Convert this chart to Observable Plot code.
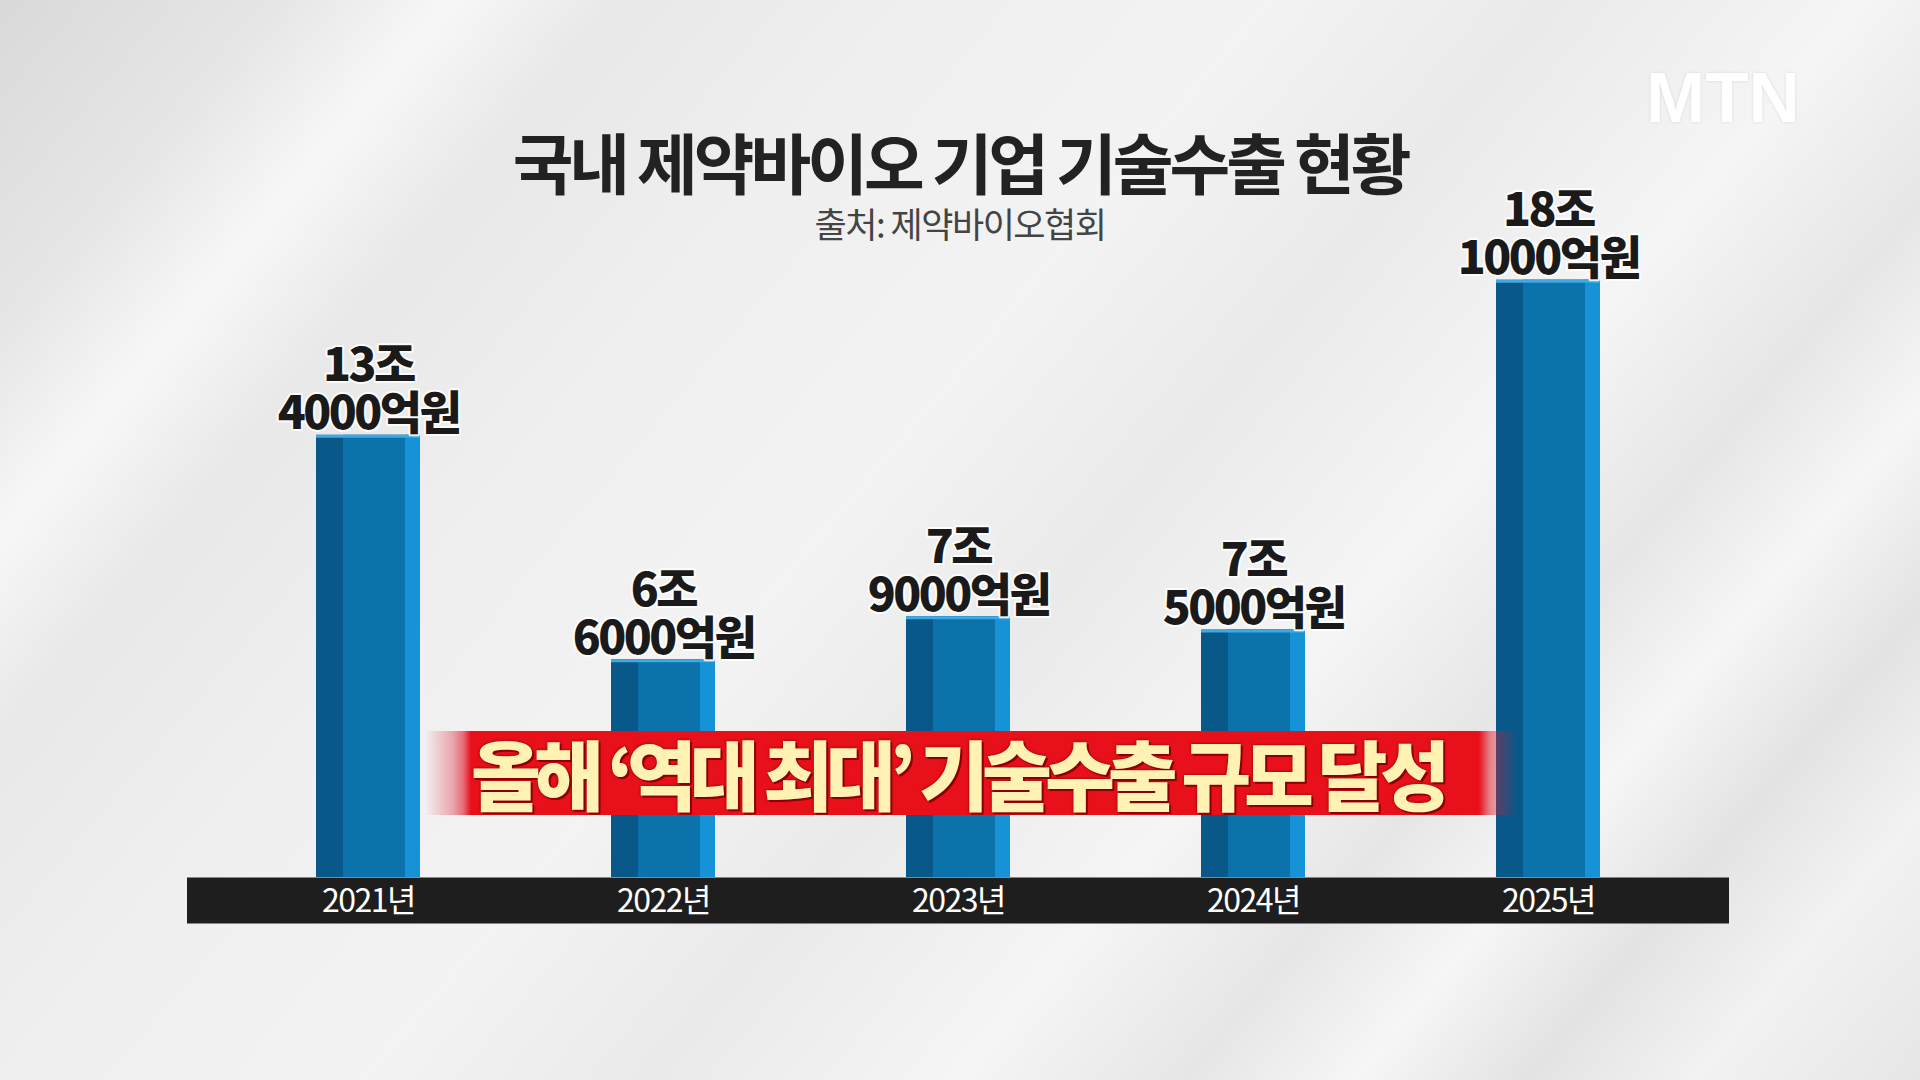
<!DOCTYPE html>
<html><head><meta charset="utf-8">
<script src="https://cdn.jsdelivr.net/npm/d3@7"></script>
<script src="https://cdn.jsdelivr.net/npm/@observablehq/plot@0.6"></script>
<style>
html,body{margin:0;padding:0;width:1920px;height:1080px;overflow:hidden;}
#wrap{position:relative;width:1920px;height:1080px;
 background:linear-gradient(130deg,#d9d9d9 0%,#e6e6e6 10%,#f7f7f7 16%,#e8e8e8 22%,#efefef 32%,#f3f3f3 45%,#eaeaea 55%,#f5f5f5 66%,#e6e6e6 74%,#f6f6f6 80%,#e3e3e3 86%,#f2f2f2 92%,#e6e6e6 100%);
 font-family:"Noto Sans CJK KR","Noto Sans",sans-serif;}
#chart{position:absolute;left:0;top:0;}
.title{position:absolute;left:0;width:1920px;text-align:center;line-height:1;}
#t1{top:127px;font-size:66px;font-weight:700;color:#222;letter-spacing:-4px;}
#t2{top:205px;font-size:35px;font-weight:400;color:#444;letter-spacing:-1.5px;}
#logo{position:absolute;left:1646px;top:62px;font-family:"Liberation Sans",Arial,sans-serif;font-weight:700;font-size:71px;line-height:1;color:#fff;letter-spacing:0px;text-shadow:0 0 3px rgba(0,0,0,0.12);}
#banner{position:absolute;left:425px;top:731px;width:1092px;height:84px;
 background:linear-gradient(to right,rgba(230,20,40,0) 0%,rgba(220,30,50,0.35) 2.5%,rgba(225,20,40,0.6) 3.5%,#e8101a 4.2%,#e8101a 96.5%,rgba(225,20,40,0.5) 97.5%,rgba(220,30,50,0) 100%);
 z-index:2;}
#banner span{position:absolute;left:46px;top:-1px;line-height:84px;font-size:76px;font-weight:900;color:#fff2b3;letter-spacing:-7px;white-space:nowrap;
 text-shadow:2px 2px 0 #8a0000,0 0 3px #7a0000;}
</style></head>
<body><div id="wrap">
<div id="chart"></div>
<div class="title" id="t1">국내 제약바이오 기업 기술수출 현황</div>
<div class="title" id="t2">출처: 제약바이오협회</div>
<div id="logo">MTN</div>
<div id="banner"><span>올해 ‘역대 최대’ 기술수출 규모 달성</span></div>
</div>
<script>
const years = ["2021년", "2022년", "2023년", "2024년", "2025년"];
const values = [13.4, 6.6, 7.9, 7.5, 18.1]; // 조원
const valueLabels = ["13조\n4000억원", "6조\n6000억원", "7조\n9000억원", "7조\n5000억원", "18조\n1000억원"];

const data = years.map((y, i) => ({year: y, value: values[i], label: valueLabels[i]}));

const plot = Plot.plot({
  width: 1920,
  height: 1080,
  marginLeft: 187,
  marginRight: 191,
  marginTop: 217,
  marginBottom: 203,
  style: {background: "transparent", fontFamily: "'Noto Sans CJK KR', sans-serif", overflow: "visible"},
  x: {type: "band", domain: years, paddingInner: 0.6475, paddingOuter: 0.437},
  y: {domain: [0, 20], axis: null},
  marks: [
    Plot.ruleY([0], {stroke: "#1e1e1e", strokeWidth: 46, dy: 23}),
    Plot.barY(data, {x: "year", y: "value", fill: "#08598a"}),
    Plot.barY(data, {x: "year", y: "value", fill: "#0b72ab", insetLeft: 27}),
    Plot.barY(data, {x: "year", y: "value", fill: "#1693d6", insetLeft: 89}),
    Plot.tickY(data, {x: "year", y: "value", stroke: "#3fa9e6", strokeWidth: 3, dy: 1}),
    Plot.text(data, {x: "year", y: "value", text: "label", lineAnchor: "bottom", dy: -6,
      fontSize: 46, fontWeight: 900, fill: "#1a1a1a", stroke: "white", strokeWidth: 4, strokeOpacity: 0.85, lineHeight: 1.04}),
    Plot.axisX({tickSize: 0, tickPadding: 12, fill: "white", fontSize: 32, fontWeight: 400, label: null})
  ]
});
document.getElementById("chart").appendChild(plot);
d3.select(plot).selectAll("g[aria-label='x-axis tick label'] text").style("letter-spacing", "-1.5px");
d3.select(plot).selectAll("g[aria-label='text'] text").style("letter-spacing", "-2.5px");
</script>
</body></html>
